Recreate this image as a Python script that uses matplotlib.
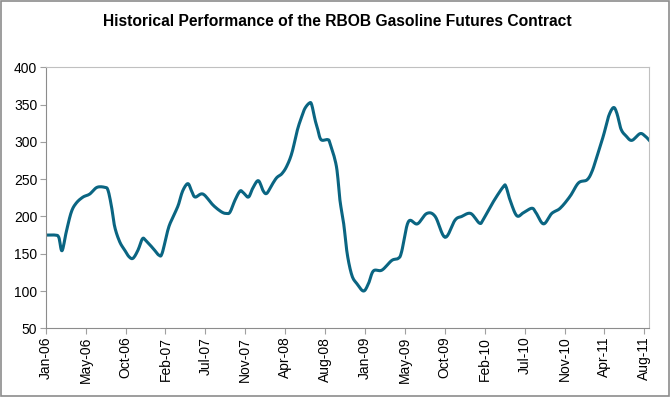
import datetime as dt
import numpy as np
import matplotlib
matplotlib.use('Agg')
import matplotlib.pyplot as plt
import matplotlib.dates as mdates

plt.rcParams['font.family'] = ['Liberation Sans', 'DejaVu Sans']

# RBOB gasoline futures, cents per gallon
dates = [
    '2006-01-01', '2006-02-02', '2006-02-15', '2006-02-26', '2006-03-13', '2006-03-30',
    '2006-04-16', '2006-05-09', '2006-06-01', '2006-06-26', '2006-07-23', '2006-08-03',
    '2006-08-15', '2006-08-26', '2006-09-12', '2006-09-29', '2006-10-14', '2006-10-28',
    '2006-11-14', '2006-11-29', '2006-12-10', '2007-01-05', '2007-01-25', '2007-02-05',
    '2007-02-26', '2007-03-15', '2007-04-01', '2007-04-16', '2007-05-04', '2007-05-17',
    '2007-05-29', '2007-06-25', '2007-07-30', '2007-08-28', '2007-09-14', '2007-09-26',
    '2007-10-13', '2007-10-30', '2007-11-10', '2007-11-28', '2007-12-13', '2008-01-01',
    '2008-01-18', '2008-01-30', '2008-02-16', '2008-03-04', '2008-03-21', '2008-04-07',
    '2008-04-25', '2008-05-14', '2008-05-29', '2008-06-09', '2008-06-24', '2008-07-02',
    '2008-07-14', '2008-07-22', '2008-08-03', '2008-08-26', '2008-09-03', '2008-09-25',
    '2008-10-07', '2008-10-20', '2008-11-01', '2008-11-17', '2008-12-04', '2008-12-27',
    '2009-01-13', '2009-01-30', '2009-02-28', '2009-04-03', '2009-04-26', '2009-05-07',
    '2009-05-30', '2009-06-30', '2009-08-01', '2009-08-30', '2009-10-03', '2009-11-06',
    '2009-11-29', '2009-12-30', '2010-01-29', '2010-02-11', '2010-03-18', '2010-04-21',
    '2010-04-30', '2010-05-14', '2010-06-06', '2010-06-29', '2010-07-28', '2010-08-11',
    '2010-09-06', '2010-10-04', '2010-11-02', '2010-12-06', '2011-01-04', '2011-02-02',
    '2011-02-19', '2011-03-08', '2011-03-31', '2011-04-17', '2011-05-04', '2011-05-16',
    '2011-05-30', '2011-06-16', '2011-07-06', '2011-08-03', '2011-08-20', '2011-09-04',
]
prices = [
    175, 175, 172, 154, 180, 206,
    218, 226, 230, 239, 239, 235,
    213, 186, 166, 155, 146, 144,
    155, 170, 168, 157, 148, 151,
    184, 200, 215, 234, 244, 234,
    226, 230, 215, 206, 204, 206,
    222, 234, 232, 226, 238, 248,
    234, 231, 242, 252, 257, 267,
    285, 316, 334, 345, 352, 350,
    329, 318, 303, 303, 298, 267,
    222, 190, 150, 121, 110, 100,
    110, 127, 128, 141, 144, 153,
    193, 190, 204, 200, 172, 195,
    200, 204, 191, 196, 220, 240,
    240, 222, 201, 205, 211, 205,
    190, 204, 211, 227, 245, 249,
    260, 280, 309, 334, 346, 338,
    317, 308, 302, 311, 308, 302,
]

axis_start = dt.date(2006, 1, 1)
tick_step_days = 137      # excel date axis, major unit 137 days
n_ticks = 16
y_ticks = [50, 100, 150, 200, 250, 300, 350, 400]


def smooth_line(xs, ys, steps=8):
    # catmull-rom through the points, like excel's smoothed line
    xs = np.asarray(xs, dtype=float)
    ys = np.asarray(ys, dtype=float)
    px = np.concatenate([[xs[0]], xs, [xs[-1]]])
    py = np.concatenate([[ys[0]], ys, [ys[-1]]])
    out_x, out_y = [], []
    t = np.linspace(0, 1, steps, endpoint=False)
    for i in range(1, len(px) - 2):
        for p, out in ((px, out_x), (py, out_y)):
            p0, p1, p2, p3 = p[i - 1], p[i], p[i + 1], p[i + 2]
            out.extend(0.5 * (2 * p1 + (-p0 + p2) * t
                              + (2 * p0 - 5 * p1 + 4 * p2 - p3) * t ** 2
                              + (-p0 + 3 * p1 - 3 * p2 + p3) * t ** 3))
    out_x.append(xs[-1])
    out_y.append(ys[-1])
    return np.array(out_x), np.array(out_y)


x = mdates.date2num([dt.datetime.strptime(d, '%Y-%m-%d') for d in dates])
ticks = [axis_start + dt.timedelta(days=tick_step_days * i) for i in range(n_ticks)]
sx, sy = smooth_line(x, prices)

fig = plt.figure(figsize=(6.7, 3.97), dpi=100)
ax = fig.add_axes([0.0682, 0.173, 0.9009, 0.6575])

ax.plot(sx, sy, color='#0a6582', linewidth=2.2, solid_joinstyle='round')

ax.set_xlim(mdates.date2num(axis_start), x[-1])
ax.set_ylim(50, 400)
ax.set_yticks(y_ticks)
ax.set_xticks(mdates.date2num(ticks))
ax.xaxis.set_major_formatter(mdates.DateFormatter('%b-%y'))
ax.tick_params(axis='x', rotation=90, labelsize=10, length=4, color='#a0a0a0', pad=2)
ax.tick_params(axis='y', labelsize=10, length=4, color='#a0a0a0', pad=2)

for side in ['left', 'bottom']:
    ax.spines[side].set_color('#8c8c8c')
for side in ['top', 'right']:
    ax.spines[side].set_color('#c0c0c0')

fig.text(0.504, 0.945, 'Historical Performance of the RBOB Gasoline Futures Contract',
         ha='center', va='center', fontsize=11.25, fontweight='bold')

# grey frame round the whole chart
fig.patches.append(plt.Rectangle((0.001, 0.002), 0.997, 0.996, transform=fig.transFigure,
                                 fill=False, edgecolor='#8c8c8c', linewidth=1.2))

fig.savefig('out.png', dpi=100)
